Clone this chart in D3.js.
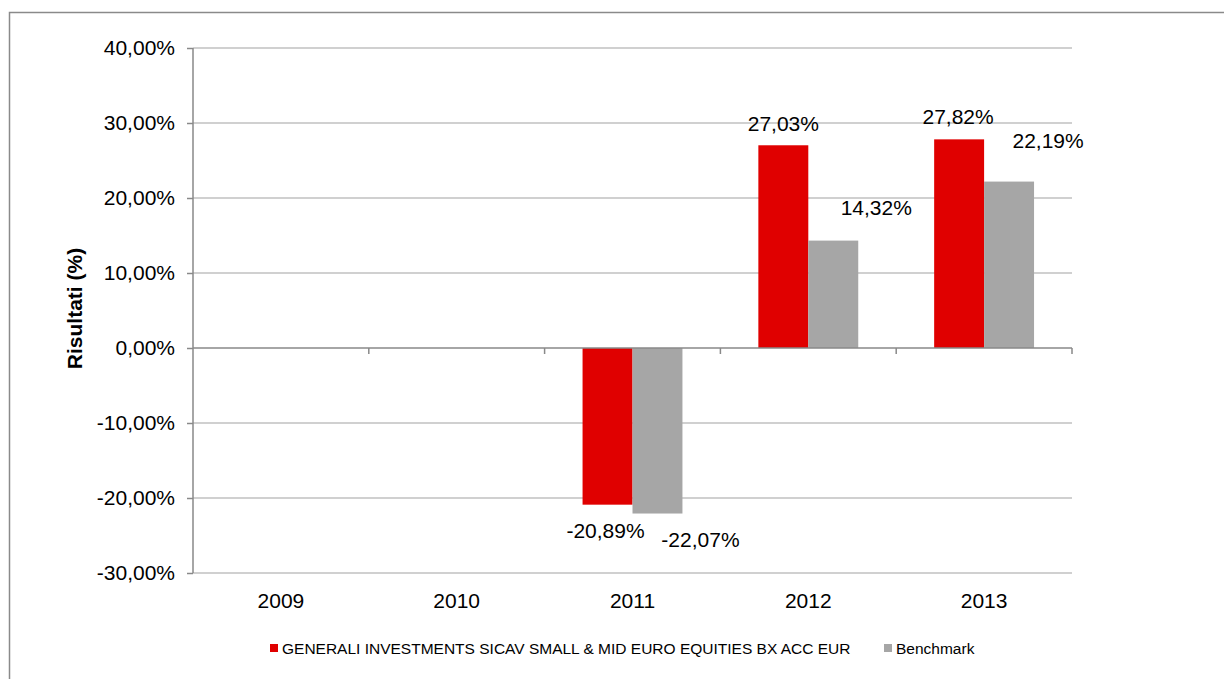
<!DOCTYPE html>
<html><head><meta charset="utf-8">
<script src="https://cdn.jsdelivr.net/npm/d3@7"></script>
<style>
html,body{margin:0;padding:0;background:#fff;}
svg{display:block;font-family:"Liberation Sans",Arial,sans-serif;}
</style></head>
<body>
<svg id="chart" width="1224" height="679"></svg>
<script>
const years = ["2009","2010","2011","2012","2013"];
const seriesNames = ["GENERALI INVESTMENTS SICAV SMALL & MID EURO EQUITIES BX ACC EUR","Benchmark"];
const fundValues = [null, null, -20.89, 27.03, 27.82];
const benchValues = [null, null, -22.07, 14.32, 22.19];
const yTicks = [-30,-20,-10,0,10,20,30,40];
const colors = ["#e00000","#a6a6a6"];
// label offsets (layout only) relative to bar center / bar end, per series & year
const labelOffsets = [
  [null,null,[-2,26],[0,-22],[-1,-23]],
  [null,null,[43,26],[43,-33],[39,-41]]
];

const svg = d3.select("#chart");
const fmt = v => (v < 0 ? "-" : "") + d3.format(".2f")(Math.abs(v)).replace(".", ",") + "%";

// outer frame (only top and left visible)
svg.append("rect").attr("x",9.5).attr("y",12.5).attr("width",1240).attr("height",700)
  .attr("fill","none").attr("stroke","#8a8a8a").attr("stroke-width",1.5);

const pL=193, pR=1072, pT=48, pB=573;
const x = d3.scaleBand().domain(years).range([pL,pR]);
const y = d3.scaleLinear().domain([-30,40]).range([pB,pT]);
const inner = d3.scaleBand().domain([0,1]).range([0,x.bandwidth()]).paddingInner(0).paddingOuter(0.76);

// gridlines
svg.append("g").selectAll("line").data(yTicks.filter(t=>t!==0)).join("line")
  .attr("x1",pL).attr("x2",pR).attr("y1",d=>y(d)).attr("y2",d=>y(d))
  .attr("stroke","#c0c0c0").attr("stroke-width",1.5);

// y axis
const yAxis = d3.axisLeft(y).tickValues(yTicks).tickSize(6).tickPadding(12).tickFormat(fmt);
const gy = svg.append("g").attr("transform",`translate(${pL},0)`).call(yAxis);
gy.select(".domain").attr("stroke","#898989").attr("stroke-width",1.5).attr("d",`M0,${pB}V${pT}`);
gy.selectAll(".tick line").attr("stroke","#898989").attr("stroke-width",1.5);
gy.selectAll(".tick text").attr("font-size",21).attr("fill","#000").attr("font-family","Liberation Sans, Arial, sans-serif");

// bars
const series = [fundValues, benchValues];
series.forEach((vals,si)=>{
  svg.append("g").selectAll("rect").data(years.map((yr,i)=>({yr,v:vals[i],i})).filter(d=>d.v!==null)).join("rect")
    .attr("x",d=>x(d.yr)+inner(si))
    .attr("width",inner.bandwidth())
    .attr("y",d=>y(Math.max(0,d.v)))
    .attr("height",d=>Math.abs(y(d.v)-y(0)))
    .attr("fill",colors[si]);
});

// x axis at zero
const xAxis = d3.axisBottom(x).tickSize(0).tickFormat("");
const gx = svg.append("g").attr("transform",`translate(0,${y(0)})`).call(xAxis);
gx.select(".domain").attr("stroke","#898989").attr("stroke-width",1.5).attr("d",`M${pL},0H${pR}`);
// category boundary ticks
svg.append("g").selectAll("line").data(years.slice(1).concat(["end"])).join("line")
  .attr("x1",d=>d==="end"?pR:x(d)).attr("x2",d=>d==="end"?pR:x(d))
  .attr("y1",y(0)).attr("y2",y(0)+6).attr("stroke","#898989").attr("stroke-width",1.5);

// year labels at bottom
svg.append("g").selectAll("text").data(years).join("text")
  .attr("x",d=>x(d)+x.bandwidth()/2).attr("y",pB+35)
  .attr("text-anchor","middle").attr("font-size",21).attr("fill","#000").text(d=>d);

// data labels
series.forEach((vals,si)=>{
  svg.append("g").selectAll("text").data(years.map((yr,i)=>({yr,v:vals[i],i})).filter(d=>d.v!==null)).join("text")
    .attr("x",d=>x(d.yr)+inner(si)+inner.bandwidth()/2+labelOffsets[si][d.i][0])
    .attr("y",d=>y(d.v)+labelOffsets[si][d.i][1])
    .attr("dy","0.35em")
    .attr("text-anchor","middle").attr("font-size",21).attr("fill","#000").text(d=>fmt(d.v));
});

// y title
svg.append("text").attr("transform",`translate(82,${(pT+pB)/2-2}) rotate(-90)`)
  .attr("text-anchor","middle").attr("font-size",21).attr("font-weight","bold").text("Risultati (%)");

// legend
const lg = svg.append("g");
const legendItems = [{x:270, name:seriesNames[0], c:colors[0]},{x:884, name:seriesNames[1], c:colors[1]}];
legendItems.forEach(it=>{
  lg.append("rect").attr("x",it.x).attr("y",644).attr("width",8).attr("height",8).attr("fill",it.c);
  lg.append("text").attr("x",it.x+12).attr("y",654).attr("font-size",15.5).attr("fill","#000").text(it.name);
});
</script>
</body></html>
